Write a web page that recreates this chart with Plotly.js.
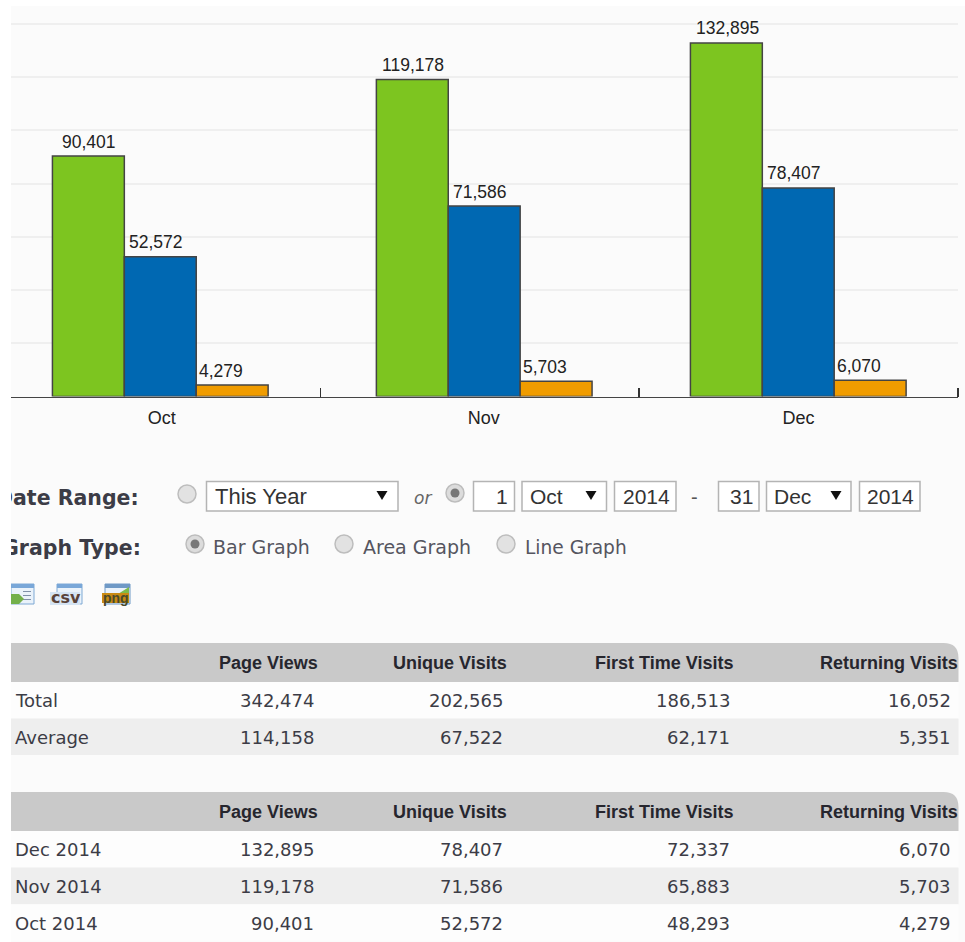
<!DOCTYPE html>
<html>
<head>
<meta charset="utf-8">
<script src="https://cdn.plot.ly/plotly-3.0.1.min.js"></script>
<style>
html,body{margin:0;padding:0;background:#fff;overflow:hidden}
#chart{position:absolute;left:0;top:0;width:965px;height:942px}
#edge{position:absolute;left:0;top:0;width:11px;height:942px;background:#fff}
</style>
</head>
<body>
<div id="chart"></div>
<div id="edge"></div>
<script>
// ---- chart data ----
const months = ['Oct', 'Nov', 'Dec'];
const pageViews = [90401, 119178, 132895];
const uniqueVisits = [52572, 71586, 78407];
const firstTimeVisits = [48293, 65883, 72337];
const returningVisits = [4279, 5703, 6070];

// ---- table data ----
const columnNames = ['Page Views', 'Unique Visits', 'First Time Visits', 'Returning Visits'];
const summaryLabels = ['Total', 'Average'];
const summaryPageViews = [342474, 114158];
const summaryUnique = [202565, 67522];
const summaryFirst = [186513, 62171];
const summaryReturning = [16052, 5351];
const monthLabels = ['Oct 2014', 'Nov 2014', 'Dec 2014'];

// ---- page geometry ----
const W = 965, H = 942;
const px = x => x / W, py = y => 1 - y / H;
const SANS = 'Liberation Sans, Arial, sans-serif';
const VERD = 'DejaVu Sans, Verdana, sans-serif';

const shapes = [], annotations = [];
function rect(x0, y0, x1, y1, fill, line, lw) {
  shapes.push({type:'rect', xref:'paper', yref:'paper', layer:'below',
    x0:px(x0), x1:px(x1), y0:py(y0), y1:py(y1), fillcolor:fill,
    line:{color:line||fill, width:line?(lw||1):0}});
}
function circle(cx, cy, r, fill, line, lw) {
  shapes.push({type:'circle', xref:'paper', yref:'paper', layer:'below',
    x0:px(cx-r), x1:px(cx+r), y0:py(cy-r), y1:py(cy+r), fillcolor:fill,
    line:{color:line||fill, width:line?(lw||1):0}});
}
function poly(pts, fill) {
  const d = pts.map((p,i)=>(i?'L':'M')+px(p[0])+','+py(p[1])).join(' ')+' Z';
  shapes.push({type:'path', xref:'paper', yref:'paper', layer:'below', path:d, fillcolor:fill, line:{width:0}});
}
function txt(x, y, text, anchor, size, family, color) {
  annotations.push({xref:'paper', yref:'paper', x:px(x), y:py(y), text:text, xanchor:anchor, yanchor:'middle',
    showarrow:false, borderpad:0, borderwidth:0, font:{size:size, family:family, color:color}});
}

// page background
rect(11, 6, W, H, '#fbfbfb');

// ---- date range row ----
txt(139, 497.5, '<b>Date Range:</b>', 'right', 20.5, VERD, '#3c3c46');
function radio(cx, cy, on) {
  circle(cx, cy, 9, on ? '#dcdcdc' : '#e2e2e2', '#bdbdbd', 1.5);
  if (on) circle(cx, cy, 4.5, '#777777');
}
function box(x0, x1) { rect(x0, 481.5, x1, 511, '#ffffff', '#b4b4b4', 1.5); }
function arrow(cx) { poly([[cx-5.5,491],[cx+5.5,491],[cx,500]], '#111111'); }
radio(187, 494, false);
box(206.5, 398); arrow(382);
txt(215, 496, 'This Year', 'left', 22, SANS, '#333333');
txt(422.5, 498, '<i>or</i>', 'center', 17, VERD, '#666666');
radio(455, 493, true);
box(473.5, 514.5); txt(508, 496, '1', 'right', 21, SANS, '#333333');
box(522, 606.5); arrow(591); txt(530, 496, 'Oct', 'left', 21, SANS, '#333333');
box(614.5, 676); txt(670, 496, '2014', 'right', 21, SANS, '#333333');
txt(694, 497, '-', 'center', 20, SANS, '#555555');
box(718.5, 759); txt(752.5, 496, '31', 'right', 21, SANS, '#333333');
box(766.5, 851); arrow(836); txt(774, 496, 'Dec', 'left', 21, SANS, '#333333');
box(859.5, 920); txt(914, 496, '2014', 'right', 21, SANS, '#333333');

// ---- graph type row ----
txt(141, 547.5, '<b>Graph Type:</b>', 'right', 20.5, VERD, '#3c3c46');
radio(195, 544, true);
txt(213, 547, 'Bar Graph', 'left', 19, VERD, '#55555f');
radio(344, 544, false);
txt(363, 547, 'Area Graph', 'left', 19, VERD, '#55555f');
radio(506, 544, false);
txt(525, 547, 'Line Graph', 'left', 18.6, VERD, '#55555f');

// ---- export icons ----
rect(11, 584, 34, 604, '#eaf2fa', '#7fa9d4', 1);
rect(11, 584, 34, 588, '#79a7d8');
rect(23, 591, 31, 592, '#7f8fa8'); rect(23, 595, 31, 596, '#7f8fa8'); rect(23, 599, 31, 600, '#7f8fa8');
poly([[11,594],[19,594],[24,599],[19,604],[11,604]], '#74b04a');
rect(57, 584, 82, 604, '#eaf2fa', '#7fa9d4', 1);
rect(57, 584, 82, 588, '#79a7d8');
rect(50, 592, 80, 605, '#d5e4f3');
txt(65.5, 597.5, '<b>csv</b>', 'center', 16, VERD, '#5a4238');
rect(105, 584, 130, 604, '#eaf2fa', '#6f99c6', 1);
rect(105, 584, 130, 588, '#6f99c6');
poly([[106,594],[118,594],[129,587],[129,594]], '#7dbb4a');
rect(102, 593, 129, 603, '#c88a12');
txt(115.5, 597.5, '<b>png</b>', 'center', 14, SANS, '#4a4a2a');

// ---- tables ----
const colHeaderRight = [318, 507, 733, 958];
const colValueRight = [314, 503, 730, 951];
function header(y0, y1) {
  const r = 15, x0 = 11, x1 = 958.5;
  const d = `M${px(x0)},${py(y0)} L${px(x1-r)},${py(y0)} Q${px(x1)},${py(y0)} ${px(x1)},${py(y0+r)} L${px(x1)},${py(y1)} L${px(x0)},${py(y1)} Z`;
  shapes.push({type:'path', xref:'paper', yref:'paper', layer:'below', path:d, fillcolor:'#c9c9c9', line:{width:0}});
  columnNames.forEach((c,i)=>txt(colHeaderRight[i], (y0+y1)/2, '<b>'+c+'</b>', 'right', 18, SANS, '#26262e'));
}
function row(y0, y1, shaded, label, vals) {
  rect(11, y0, 958.5, y1, shaded ? '#eeeeee' : '#fdfdfd');
  const c = (y0+y1)/2 + 0.5;
  txt(14.5, c, label, 'left', 18, VERD, '#3c3c46');
  vals.forEach((v,i)=>txt(colValueRight[i], c, v.toLocaleString('en-US'), 'right', 18, VERD, '#3c3c46'));
}
header(643, 682);
summaryLabels.forEach((l,i)=>row(682+i*36.5, 682+(i+1)*36.5, i===1, l,
  [summaryPageViews[i], summaryUnique[i], summaryFirst[i], summaryReturning[i]]));
header(792, 831);
[2,1,0].forEach((m,i)=>row(831+i*36.6, 831+(i+1)*36.6, i===1, monthLabels[m],
  [pageViews[m], uniqueVisits[m], firstTimeVisits[m], returningVisits[m]]));

// ---- bars ----
const barWidth = 0.2255;
const groupNudge = [-0.002, 0.014, -0.001];
const offsetOf = (i, k) => groupNudge[i] + (k - 1.5) * barWidth;
function series(name, values, color, k) {
  return {type:'bar', name:name, x:months, y:values, width:barWidth,
    offset:months.map((_,i)=>offsetOf(i,k)),
    marker:{color:color, line:{color:'#444444', width:1.5}},
    hoverinfo:'skip'};
}
// value labels sit above each bar; the blue and orange ones hug the bar's left edge
function valueLabels(values, k, anchor, shiftPx) {
  values.forEach((v,i)=>{
    annotations.push({xref:'x', yref:'y', x:i+offsetOf(i,k)+(anchor==='center'?barWidth/2:0), y:v,
      xanchor:anchor, yanchor:'middle', xshift:shiftPx, yshift:14.5, showarrow:false, borderpad:0,
      text:v.toLocaleString('en-US'), font:{family:SANS, size:17.5, color:'#222222'}});
  });
}
valueLabels(pageViews, 0, 'center', 1);
valueLabels(uniqueVisits, 1, 'left', 4);
valueLabels(returningVisits, 2, 'left', 2);

const data = [
  series('Page Views', pageViews, '#7dc520', 0),
  series('Unique Visits', uniqueVisits, '#0068b2', 1),
  series('Returning Visits', returningVisits, '#f09c00', 2)
];

const layout = {
  width:W, height:H, margin:{l:0,r:0,t:0,b:0,pad:0},
  paper_bgcolor:'#ffffff', plot_bgcolor:'rgba(0,0,0,0)', showlegend:false, barmode:'group',
  xaxis:{domain:[11/W, 958/W], type:'category', categoryorder:'array', categoryarray:months,
    range:[-0.4702, 2.5], tickmode:'array', tickvals:[0.003, 1.0125, 2], ticktext:months,
    ticks:'', ticklen:0, showgrid:false, zeroline:false, showline:true, linecolor:'#444444', linewidth:1.5,
    tickfont:{family:SANS, size:18, color:'#222222'}, ticklabelstandoff:4,
    minor:{tickmode:'array', tickvals:[0.5, 1.5, 2.5], ticks:'inside', ticklen:9, tickwidth:1.5, tickcolor:'#333333', showgrid:false}},
  yaxis:{domain:[(H-396.5)/H, (H-6)/H], range:[0, 146800], tickmode:'linear', tick0:0, dtick:20000,
    showticklabels:false, ticks:'', showgrid:true, gridcolor:'#efefef', gridwidth:2, zeroline:false, showline:false},
  shapes:shapes, annotations:annotations
};
Plotly.newPlot('chart', data, layout, {staticPlot:true, displayModeBar:false});
</script>
</body>
</html>
